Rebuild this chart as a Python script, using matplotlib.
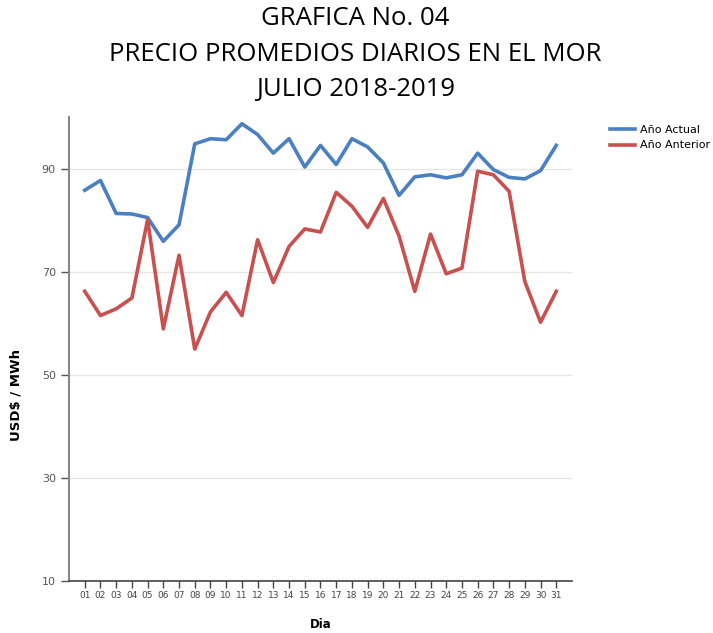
import matplotlib.pyplot as plt
import numpy as np

plt.rcParams["font.family"] = "DejaVu Sans"

dias = ["%02d" % d for d in range(1, 32)]
anio_actual = [85.8, 87.7, 81.3, 81.2, 80.5, 75.9, 79.1, 94.8, 95.8, 95.6,
               98.7, 96.6, 93.0, 95.8, 90.3, 94.5, 90.8, 95.8, 94.2, 91.1,
               84.8, 88.4, 88.8, 88.2, 88.8, 93.0, 89.8, 88.3, 88.0, 89.6, 94.5]
anio_anterior = [66.2, 61.5, 62.8, 64.9, 80.1, 58.9, 73.2, 55.0, 62.2, 66.0,
                 61.5, 76.2, 67.9, 74.9, 78.3, 77.7, 85.4, 82.7, 78.6, 84.2,
                 76.9, 66.2, 77.3, 69.6, 70.7, 89.5, 88.8, 85.6, 68.1, 60.2, 66.2]
y_ticks = [10, 30, 50, 70, 90]

x = np.arange(1, len(dias) + 1)

fig = plt.figure(figsize=(7.13, 6.33), dpi=100)
ax = fig.add_axes([0.0968, 0.0821, 0.7054, 0.7330])

ax.plot(x, anio_actual, color="#4a80c0", lw=2.6, label="Año Actual", solid_joinstyle="round")
ax.plot(x, anio_anterior, color="#c8504f", lw=2.6, label="Año Anterior", solid_joinstyle="round")

ax.set_xlim(0, 32)
ax.set_ylim(10, 100)
ax.set_yticks(y_ticks)
ax.set_xticks(x)
ax.set_xticklabels(dias, fontsize=6.5, color="#333333")
ax.tick_params(axis="y", labelsize=8, colors="#555555", length=6, width=1)
ax.tick_params(axis="x", length=5, width=1, pad=2, colors="#444444")
ax.grid(axis="y", color="#e6e6e6", lw=1)
ax.set_axisbelow(True)

for s in ["top", "right"]:
    ax.spines[s].set_visible(False)
ax.spines["left"].set_color("#888888")
ax.spines["left"].set_linewidth(1.5)
ax.spines["bottom"].set_color("#444444")
ax.spines["bottom"].set_linewidth(1.2)

ax.set_ylabel("USD$ / MWh", fontsize=9.5, fontweight="bold")
ax.yaxis.set_label_coords(-0.093, 0.40)
ax.set_xlabel("Dia", fontsize=8.5, fontweight="bold", labelpad=13)

titulo = ["GRAFICA No. 04", "PRECIO PROMEDIOS DIARIOS EN EL MOR", "JULIO 2018-2019"]
for i, t in enumerate(titulo):
    fig.text(0.498, 0.970 - i * 0.0555, t, ha="center", va="center", fontsize=18.5, family="Open Sans")

ax.legend(loc="upper left", bbox_to_anchor=(1.065, 0.995), frameon=False, fontsize=8,
          borderpad=0, handlelength=2.2, handletextpad=0.5, labelspacing=0.5)

fig.savefig("out.png", dpi=100)
